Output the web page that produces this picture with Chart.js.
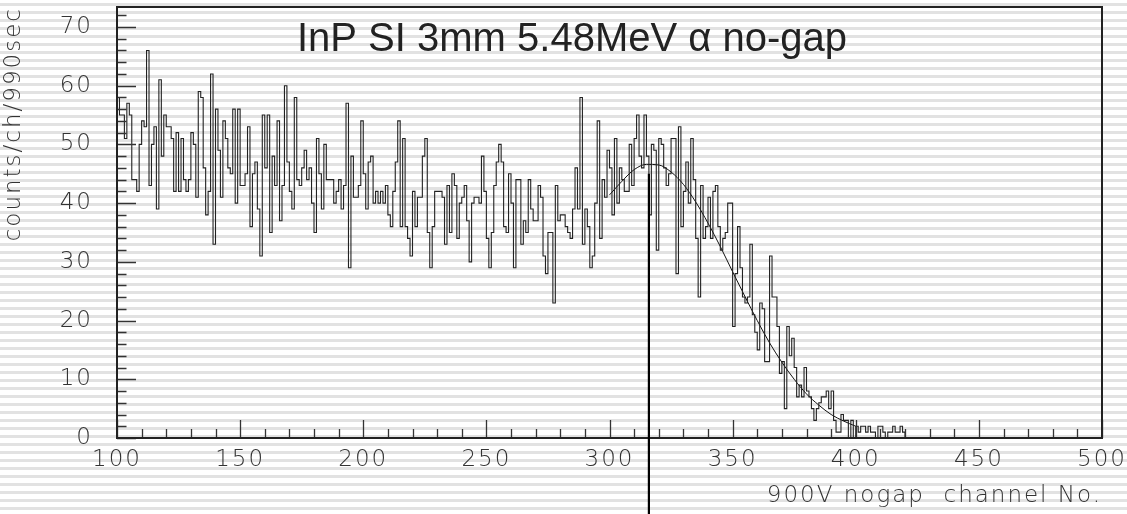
<!DOCTYPE html>
<html>
<head>
<meta charset="utf-8">
<script src="https://cdn.jsdelivr.net/npm/chart.js@4.4.1/dist/chart.umd.min.js"></script>
<style>
  html, body { margin: 0; padding: 0; }
  body {
    width: 1127px; height: 514px; overflow: hidden;
    background: repeating-linear-gradient(to bottom,
      #ffffff 0px, #ffffff 3.5px, #e2e2e2 3.5px, #e2e2e2 6px, #ffffff 6px, #ffffff 8px);
  }
  #wrap { position: relative; width: 1127px; height: 514px; }
</style>
</head>
<body>
<div id="wrap"><canvas id="spectrum"></canvas></div>
<script>
// histogram: one bin per channel, starting at channel 100
const firstChannel = 100;
const counts = [
    59, 58, 55, 55, 51, 57, 55, 44, 44, 42,
    50, 54, 53, 66, 43, 50, 53, 39, 61, 48,
    55, 53, 53, 51, 42, 52, 42, 51, 44, 42,
    44, 52, 50, 41, 59, 58, 46, 38, 42, 62,
    33, 56, 49, 41, 54, 51, 46, 45, 56, 40,
    56, 43, 43, 45, 53, 36, 45, 47, 39, 31,
    55, 46, 55, 35, 48, 43, 54, 37, 43, 60,
    47, 42, 39, 58, 44, 43, 46, 49, 44, 46,
    40, 35, 51, 45, 39, 50, 44, 44, 44, 40,
    42, 44, 39, 43, 57, 29, 48, 41, 41, 43,
    54, 45, 39, 47, 48, 40, 42, 40, 42, 40,
    43, 38, 36, 42, 47, 54, 36, 51, 36, 34,
    31, 42, 36, 41, 41, 48, 51, 35, 29, 36,
    42, 42, 42, 41, 33, 43, 35, 45, 43, 34,
    40, 41, 43, 37, 30, 40, 41, 41, 40, 48,
    42, 34, 29, 35, 43, 47, 50, 47, 36, 35,
    45, 40, 29, 44, 44, 33, 37, 35, 44, 39,
    37, 37, 43, 41, 31, 28, 35, 35, 23, 43,
    37, 38, 38, 36, 35, 34, 39, 46, 39, 58,
    33, 39, 36, 29, 31, 40, 54, 34, 44, 41,
    49, 46, 38, 51, 40, 46, 44, 42, 42, 50,
    43, 51, 55, 48, 46, 55, 48, 38, 50, 49,
    32, 51, 50, 46, 43, 45, 51, 51, 28, 53,
    36, 42, 47, 40, 51, 44, 34, 24, 43, 34,
    36, 41, 34, 42, 43, 36, 32, 34, 35, 40,
    40, 19, 28, 36, 29, 24, 23, 24, 33, 21,
    18, 15, 23, 22, 13, 13, 31, 24, 24, 19,
    11, 13, 5, 19, 14, 17, 12, 7, 9, 7,
    12, 8, 7, 5, 3, 5, 6, 7, 7, 8,
    5, 8, 3, 1, 1, 4, 3, 3, 0, 3,
    0, 2, 1, 2, 2, 1, 2, 1, 1, 0,
    2, 2, 1, 0, 1, 1, 2, 1, 1, 2,
    1, 0
];

// fitted peak curve
const fitChannels = [300, 305, 310, 315, 320, 325, 330, 335, 340, 345, 350,
                     355, 360, 365, 370, 375, 380, 385, 390, 395, 400];
const fitValues = [41.4, 43.7, 45.7, 46.6, 46.5, 45.3, 43.2, 40.2, 36.6, 32.6, 28.3,
                   24.1, 20.0, 16.2, 12.9, 10.0, 7.5, 5.6, 4.0, 2.9, 2.0];

// vertical marker at the peak position
const markerChannel = 316;
const markerTop = 45;

// axes
const xRange = [100, 500];
const yRange = [0, 73.4];
const xTickStep = 50, xMinorStep = 10;
const yTickStep = 10, yMinorStep = 2;

const titleText = 'InP SI 3mm 5.48MeV \u03B1 no-gap';
const xTitle = '900V nogap  channel No.';
const yTitle = 'counts/ch/990sec';

const histPoints = counts.map((v, i) => ({ x: firstChannel + i, y: v }));
const fitPoints = fitChannels.map((c, i) => ({ x: c, y: fitValues[i] }));

const labelFont = { family: '"DejaVu Sans", sans-serif', size: 23, weight: '200' };

const frameAndTicks = {
    id: 'frameAndTicks',
    beforeDraw(chart) {
        chart.ctx.letterSpacing = '2px';
    },
    afterDraw(chart) {
        const ctx = chart.ctx;
        const a = chart.chartArea;
        const xs = chart.scales.x, ys = chart.scales.y;
        ctx.save();
        ctx.letterSpacing = '0px';

        // minor / major ticks pointing inwards
        ctx.strokeStyle = '#333';
        ctx.lineWidth = 1.3;
        ctx.beginPath();
        for (let v = yRange[0]; v <= yRange[1]; v += yMinorStep) {
            const py = Math.round(ys.getPixelForValue(v)) + 0.5;
            const len = v % yTickStep === 0 ? 19 : 9.5;
            ctx.moveTo(a.left, py);
            ctx.lineTo(a.left + len, py);
        }
        for (let c = xRange[0]; c <= xRange[1]; c += xMinorStep) {
            const px = Math.round(xs.getPixelForValue(c)) + 0.5;
            const len = c % xTickStep === 0 ? 18 : 9;
            ctx.moveTo(px, a.bottom);
            ctx.lineTo(px, a.bottom - len);
        }
        ctx.stroke();

        // frame
        ctx.strokeStyle = '#222';
        ctx.lineWidth = 2;
        ctx.strokeRect(a.left, a.top, a.right - a.left, a.bottom - a.top);

        // peak marker, running below the axis
        const mx = xs.getPixelForValue(markerChannel);
        ctx.strokeStyle = '#000';
        ctx.lineWidth = 2.2;
        ctx.beginPath();
        ctx.moveTo(mx, ys.getPixelForValue(markerTop));
        ctx.lineTo(mx, chart.height);
        ctx.stroke();

        // title inside the frame
        ctx.fillStyle = '#222';
        ctx.font = '40px "Liberation Sans", Arial, sans-serif';
        ctx.textAlign = 'center';
        ctx.textBaseline = 'alphabetic';
        ctx.fillText(titleText, 572, 51);
        ctx.restore();
        ctx.letterSpacing = '0px';
    }
};

new Chart(document.getElementById('spectrum').getContext('2d'), {
    type: 'line',
    data: {
        datasets: [{
            label: 'counts',
            data: histPoints,
            stepped: 'after',
            borderColor: '#222',
            borderWidth: 1.1,
            pointRadius: 0,
            fill: false
        }, {
            label: 'fit',
            data: fitPoints,
            borderColor: '#111',
            borderWidth: 1,
            pointRadius: 0,
            cubicInterpolationMode: 'monotone',
            fill: false
        }]
    },
    options: {
        responsive: true,
        maintainAspectRatio: false,
        animation: false,
        layout: { padding: { top: 7, right: 25, left: 0, bottom: 0 } },
        plugins: {
            legend: { display: false },
            tooltip: { enabled: false },
            title: { display: false }
        },
        scales: {
            x: {
                type: 'linear',
                min: xRange[0],
                max: xRange[1],
                grid: { display: false, drawTicks: false },
                border: { display: false },
                ticks: {
                    stepSize: xTickStep,
                    includeBounds: false,
                    color: '#333',
                    font: labelFont,
                    padding: 8,
                    maxRotation: 0
                },
                title: {
                    display: true,
                    text: xTitle,
                    align: 'end',
                    color: '#333',
                    font: labelFont,
                    padding: { top: 0, bottom: 4 }
                },
                afterFit(scale) {
                    scale.height = 76;
                    scale.paddingLeft = 0;
                    scale.paddingRight = 0;
                }
            },
            y: {
                min: yRange[0],
                max: yRange[1],
                grid: { display: false, drawTicks: false },
                border: { display: false },
                ticks: {
                    stepSize: yTickStep,
                    includeBounds: false,
                    color: '#333',
                    font: labelFont,
                    padding: 24
                },
                title: {
                    display: true,
                    text: yTitle,
                    align: 'end',
                    color: '#333',
                    font: labelFont,
                    padding: { top: 0, bottom: 5 }
                },
                afterFit(scale) {
                    scale.width = 117;
                    scale.paddingTop = 0;
                    scale.paddingBottom = 0;
                }
            }
        }
    },
    plugins: [frameAndTicks]
});
</script>
</body>
</html>
